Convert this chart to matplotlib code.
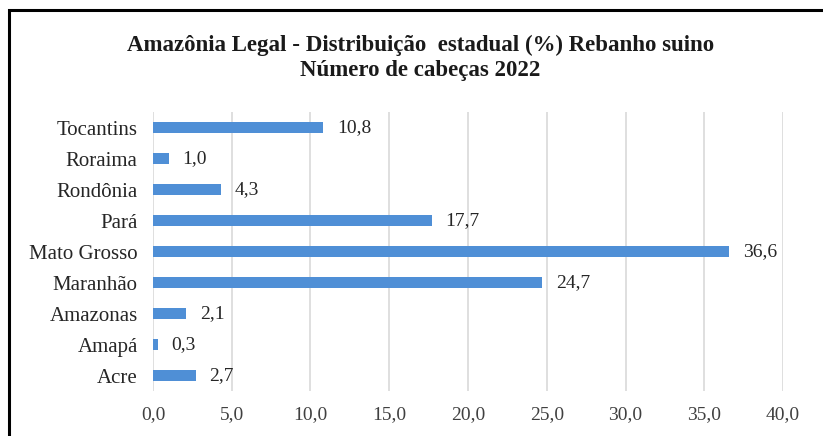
import matplotlib.pyplot as plt
from matplotlib.patches import Rectangle

estados = ["Acre", "Amapá", "Amazonas", "Maranhão", "Mato Grosso", "Pará",
           "Rondônia", "Roraima", "Tocantins"]
percentual = [2.7, 0.3, 2.1, 24.7, 36.6, 17.7, 4.3, 1.0, 10.8]
xticks = [0, 5, 10, 15, 20, 25, 30, 35, 40]

plt.rcParams['font.family'] = ['Liberation Serif', 'DejaVu Serif']

fig = plt.figure(figsize=(8.23, 4.36), dpi=100)
ax = fig.add_axes([0.1859, 0.1032, 0.7655, 0.6399])

ypos = list(range(len(estados)))
ax.barh(ypos, percentual, height=0.36, color="#4F8FD6", zorder=3)

for y, v in zip(ypos, percentual):
    ax.annotate(("%.1f" % v).replace(".", ","), xy=(v, y), xytext=(10, 0),
                textcoords="offset points", va="center", ha="left",
                fontsize=14, color="#262626")

ax.set_xlim(0, 40)
ax.set_ylim(-0.5, len(estados) - 0.5)
ax.set_yticks(ypos)
ax.set_yticklabels(estados, fontsize=15, color="#262626")
ax.set_xticks(xticks)
ax.set_xticklabels([("%.1f" % t).replace(".", ",") for t in xticks],
                   fontsize=14, color="#404040")
ax.tick_params(axis="both", length=0)
ax.tick_params(axis="y", pad=11)
ax.tick_params(axis="x", pad=11)
ax.grid(axis="x", color="#D9D9D9", linewidth=1.2, zorder=0)
for s in ax.spines.values():
    s.set_visible(False)

fig.text(0.511, 0.895, "Amazônia Legal - Distribuição  estadual (%) Rebanho suino",
         ha="center", va="center", fontsize=16.5, fontweight="bold", color="#1a1a1a")
fig.text(0.511, 0.838, "Número de cabeças 2022",
         ha="center", va="center", fontsize=16.5, fontweight="bold", color="#1a1a1a")

# moldura
fig.patches.append(Rectangle((9 / 823, -0.1), 1.2, 1.1 - 10 / 436,
                             transform=fig.transFigure, fill=False,
                             edgecolor="black", linewidth=2.2, clip_on=False))

fig.savefig("out.png", dpi=100)
